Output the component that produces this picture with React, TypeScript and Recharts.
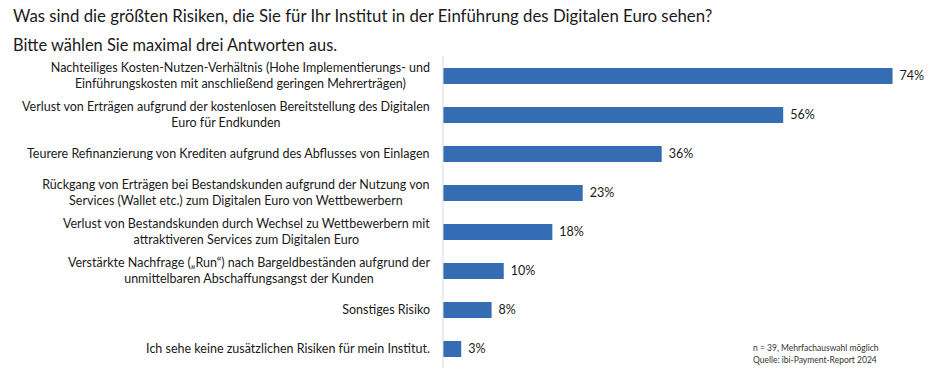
import { BarChart, Bar, XAxis, YAxis, LabelList } from "recharts";

const categories = [
  "Nachteiliges Kosten-Nutzen-Verhältnis (Hohe Implementierungs- und\nEinführungskosten mit anschließend geringen Mehrerträgen)",
  "Verlust von Erträgen aufgrund der kostenlosen Bereitstellung des Digitalen\nEuro für Endkunden",
  "Teurere Refinanzierung von Krediten aufgrund des Abflusses von Einlagen",
  "Rückgang von Erträgen bei Bestandskunden aufgrund der Nutzung von\nServices (Wallet etc.) zum Digitalen Euro von Wettbewerbern",
  "Verlust von Bestandskunden durch Wechsel zu Wettbewerbern mit\nattraktiveren Services zum Digitalen Euro",
  "Verstärkte Nachfrage („Run“) nach Bargeldbeständen aufgrund der\nunmittelbaren Abschaffungsangst der Kunden",
  "Sonstiges Risiko",
  "Ich sehe keine zusätzlichen Risiken für mein Institut.",
];
const shares = [74, 56, 36, 23, 18, 10, 8, 3];

const title = "Was sind die größten Risiken, die Sie für Ihr Institut in der Einführung des Digitalen Euro sehen?";
const subtitle = "Bitte wählen Sie maximal drei Antworten aus.";
const notes = ["n = 39, Mehrfachauswahl möglich", "Quelle: ibi-Payment-Report 2024"];

const data = categories.map((c, i) => ({ name: c, value: shares[i] }));

const FONT = "Lato, 'Open Sans', sans-serif";
const TICK_SIZE = 12.5;
const BAR_COLOR = "#346db4";

let canvas: HTMLCanvasElement | null = null;
function textWidth(s: string, size: number) {
  if (!canvas) canvas = document.createElement("canvas");
  const ctx = canvas.getContext("2d");
  if (!ctx) return s.length * size * 0.5;
  ctx.font = `${size}px Lato`;
  return ctx.measureText(s).width;
}

// multi-line label, lines centred, block right-aligned next to the axis
function CategoryTick({ y, payload }: { x?: number; y?: number; payload?: { value: string } }) {
  const lines = (payload?.value || "").split("\n");
  const maxW = Math.max(...lines.map((l) => textWidth(l, TICK_SIZE)));
  const cx = 430 - maxW / 2;
  const lh = 16.5;
  const top = (y || 0) - ((lines.length - 1) * lh) / 2;
  return (
    <text textAnchor="middle" fontFamily={FONT} fontSize={TICK_SIZE} fill="#1a1a1a">
      {lines.map((l, i) => (
        <tspan key={i} x={cx} y={top + i * lh} dy="0.35em">
          {l}
        </tspan>
      ))}
    </text>
  );
}

export default function App() {
  return (
    <div style={{ position: "relative", width: 936, height: 373, background: "#fff", fontFamily: FONT }}>
      <style>{`body{margin:0}`}</style>
      <div style={{ position: "absolute", left: 13, top: 5, fontSize: 16.8, color: "#1a1a1a", whiteSpace: "nowrap" }}>
        {title}
      </div>
      <div style={{ position: "absolute", left: 13, top: 35, fontSize: 16.4, color: "#1a1a1a", whiteSpace: "nowrap" }}>
        {subtitle}
      </div>
      <BarChart
        width={936}
        height={373}
        data={data}
        layout="vertical"
        barSize={16}
        margin={{ top: 56, right: 7, bottom: 5, left: 0 }}
      >
        <XAxis type="number" domain={[0, 80]} hide />
        <YAxis
          type="category"
          dataKey="name"
          width={443}
          axisLine={{ stroke: "#d9d9d9" }}
          tickLine={false}
          tick={<CategoryTick />}
          interval={0}
        />
        <Bar dataKey="value" fill={BAR_COLOR} isAnimationActive={false}>
          <LabelList
            dataKey="value"
            position="right"
            offset={7}
            formatter={(v: number) => `${v}%`}
            style={{ fontFamily: FONT, fontSize: 12.5, fill: "#1a1a1a" }}
          />
        </Bar>
      </BarChart>
      <div style={{ position: "absolute", left: 753, top: 342, fontSize: 8.5, lineHeight: "12px", color: "#333" }}>
        {notes.map((n) => (
          <div key={n}>{n}</div>
        ))}
      </div>
    </div>
  );
}
